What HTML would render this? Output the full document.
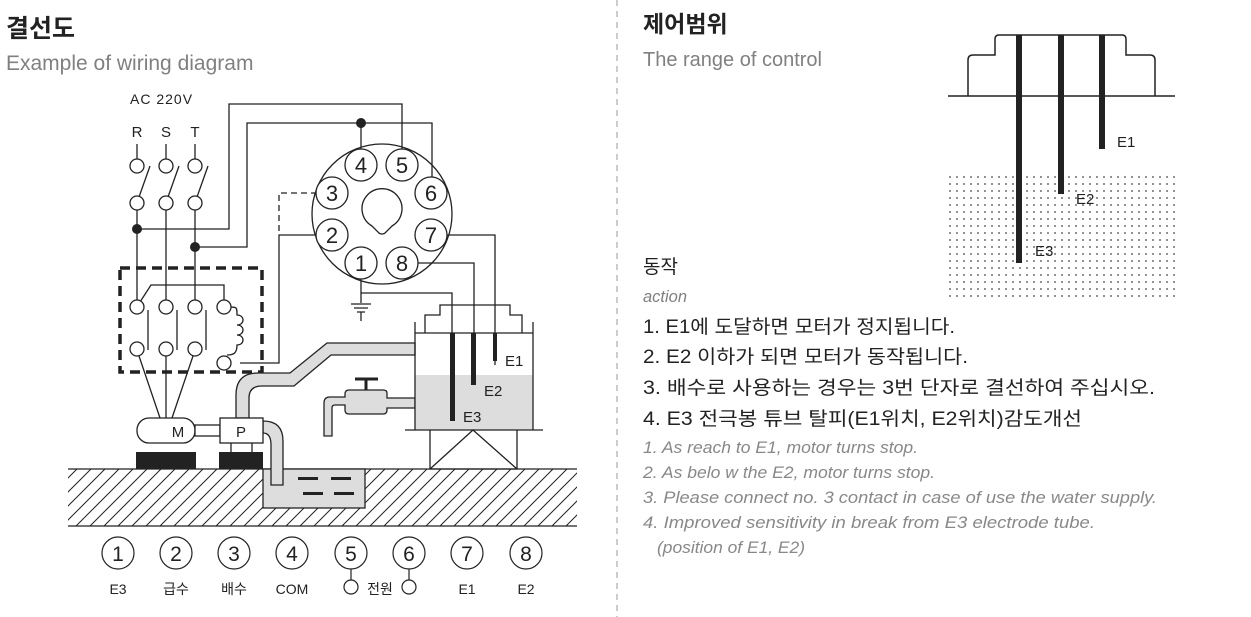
<!DOCTYPE html>
<html><head><meta charset="utf-8"><style>
html,body{margin:0;padding:0;background:#fff;}
svg{display:block;}
.k{font-family:"Liberation Sans","Noto Sans CJK KR",sans-serif;}
</style></head><body>
<svg width="1251" height="617" viewBox="0 0 1251 617" xmlns="http://www.w3.org/2000/svg" class="k">
<defs>
<pattern id="h" width="14" height="14" patternUnits="userSpaceOnUse"><path d="M-2,16 L16,-2 M-2,2 L2,-2 M12,16 L16,12" stroke="#222" stroke-width="1"/></pattern>
<pattern id="d" x="948" y="175" width="7" height="7" patternUnits="userSpaceOnUse"><circle cx="2" cy="2" r="0.9" fill="#444"/></pattern>
</defs>
<text x="6" y="37" font-size="25" font-weight="bold" fill="#222">결선도</text>
<text x="6" y="70" font-size="21" fill="#808080">Example of wiring diagram</text>
<line x1="617" y1="0" x2="617" y2="617" stroke="#999" stroke-dasharray="6,5"/>
<g fill="none" stroke="#222" stroke-width="1.3">
<rect x="68" y="469" width="509" height="57" fill="url(#h)" stroke="none"/>
<line x1="68" y1="469" x2="577" y2="469"/><line x1="68" y1="526" x2="577" y2="526"/>
<rect x="263" y="469" width="102" height="39" fill="#ddd"/>
<circle cx="382" cy="214" r="70" fill="#fff"/>
<path d="M372,226 A20,20 0 1 1 392,226 L386,232 A5,5 0 0 1 378,232 Z" />
<path d="M137,229 H229 V104 H402 V150"/>
<path d="M195,247 H247 V123 H432 V178"/>
<path d="M361,123 V150"/>
<path d="M317,193 H279 V232" stroke-dasharray="6,4"/>
<path d="M317,235 H279 V363 H240"/>
<path d="M447,235 H495 V365"/>
<path d="M418,263 H474 V388"/>
<path d="M361,279 V293 H452 V420"/>
<path d="M361,293 V303 M351,304 H371 M354,308 H368 M357,312 H365 M361,312 V321"/>
</g>
<g fill="#fff" stroke="#222" stroke-width="1.3">
<circle cx="361" cy="165" r="16"/><circle cx="402" cy="165" r="16"/>
<circle cx="332" cy="193" r="16"/><circle cx="431" cy="193" r="16"/>
<circle cx="332" cy="235" r="16"/><circle cx="431" cy="235" r="16"/>
<circle cx="361" cy="263" r="16"/><circle cx="402" cy="263" r="16"/>
</g>
<g font-size="22" fill="#222" text-anchor="middle">
<text x="361" y="173">4</text><text x="402" y="173">5</text><text x="332" y="201">3</text><text x="431" y="201">6</text>
<text x="332" y="243">2</text><text x="431" y="243">7</text><text x="361" y="271">1</text><text x="402" y="271">8</text>
</g>
<circle cx="361" cy="123" r="5" fill="#222"/><circle cx="137" cy="229" r="5" fill="#222"/><circle cx="195" cy="247" r="5" fill="#222"/>
<text x="130" y="104" font-size="14" fill="#222" letter-spacing="1">AC  220V</text>
<g font-size="15" fill="#222" text-anchor="middle"><text x="137" y="137">R</text><text x="166" y="137">S</text><text x="195" y="137">T</text></g>
<g fill="none" stroke="#222" stroke-width="1.3">
<path d="M137,144V159 M166,144V159 M195,144V159"/>
<path d="M150,166 L139,197 M179,166 L168,197 M208,166 L197,197"/>
<path d="M137,210V300 M166,210V300 M195,210V300"/>
<circle cx="137" cy="166" r="7" fill="#fff"/><circle cx="166" cy="166" r="7" fill="#fff"/><circle cx="195" cy="166" r="7" fill="#fff"/>
<circle cx="137" cy="203" r="7" fill="#fff"/><circle cx="166" cy="203" r="7" fill="#fff"/><circle cx="195" cy="203" r="7" fill="#fff"/>
<rect x="120" y="268" width="142" height="104" stroke-width="3.5" stroke-dasharray="10,6"/>
<path d="M140,302 L151,285 H224 V300"/>
<path d="M148,310V350 M177,310V350 M206,310V350"/>
<path d="M229,307 c8,0 8,0 8,8 c8,0 8,10 0,10 c8,0 8,10 0,10 c8,0 8,10 0,10 c0,8 -3,10 -10,10"/>
<circle cx="137" cy="307" r="7" fill="#fff"/><circle cx="166" cy="307" r="7" fill="#fff"/><circle cx="195" cy="307" r="7" fill="#fff"/><circle cx="224" cy="307" r="7" fill="#fff"/>
<circle cx="137" cy="349" r="7" fill="#fff"/><circle cx="166" cy="349" r="7" fill="#fff"/><circle cx="195" cy="349" r="7" fill="#fff"/><circle cx="224" cy="363" r="7" fill="#fff"/>
<path d="M139,356 L160,418 M166,356 V418 M193,356 L172,418"/>
<path d="M415,343 H327 L290,373 H258 Q236,373 236,395 V418 H249 V398 Q249,386 262,386 H294 L331,355 H415 Z" fill="#ddd"/>
<path d="M263,421 Q283,421 283,441 V485 H271 V445 Q271,433 263,433 Z" fill="#ddd"/>
<rect x="137" y="418" width="58" height="25" rx="12" fill="#fff"/>
<rect x="195" y="425" width="25" height="11" fill="#fff"/>
<rect x="220" y="418" width="43" height="25" fill="#fff"/>
<path d="M231,443V452 M252,443V452"/>
<path d="M415,398 H387 V393 Q387,390 383,390 H349 Q345,390 345,394 V397 H330 Q324,397 324,403 V436 H332 V408 Q332,405 335,405 H345 V410 Q345,414 349,414 H383 Q387,414 387,410 V408 H415 Z" fill="#ddd"/>
<path d="M366,390V380 M355,379H378" stroke-width="3"/>
<rect x="415" y="375" width="118" height="55" fill="#ddd" stroke="none"/>
<path d="M415,322 V430 H533 V322 M405,430 H543"/>
<path d="M425,333 V315 H440 V305 H510 V315 H522 V333 M415,333 H533"/>
<path d="M430,430 V469 H517 V430 M430,469 L473,430 L517,469"/>
</g>
<rect x="136" y="452" width="60" height="17" fill="#222"/><rect x="219" y="452" width="44" height="17" fill="#222"/>
<g fill="#222"><rect x="298" y="477" width="20" height="3"/><rect x="331" y="477" width="20" height="3"/><rect x="303" y="492" width="20" height="3"/><rect x="334" y="492" width="20" height="3"/></g>
<rect x="450" y="333" width="5" height="88" fill="#222"/><rect x="471" y="333" width="5" height="52" fill="#222"/><rect x="493" y="333" width="4" height="28" fill="#222"/>
<g font-size="15" fill="#222"><text x="505" y="366">E1</text><text x="484" y="396">E2</text><text x="463" y="422">E3</text>
<text x="178" y="437" text-anchor="middle">M</text><text x="241" y="437" text-anchor="middle">P</text></g>
<g fill="none" stroke="#222" stroke-width="1.2">
<circle cx="118" cy="553" r="16"/><circle cx="176" cy="553" r="16"/><circle cx="234" cy="553" r="16"/><circle cx="292" cy="553" r="16"/>
<circle cx="351" cy="553" r="16"/><circle cx="409" cy="553" r="16"/><circle cx="467" cy="553" r="16"/><circle cx="526" cy="553" r="16"/>
<path d="M351,569V580 M409,569V580"/><circle cx="351" cy="587" r="7"/><circle cx="409" cy="587" r="7"/>
</g>
<g font-size="21" fill="#222" text-anchor="middle">
<text x="118" y="561">1</text><text x="176" y="561">2</text><text x="234" y="561">3</text><text x="292" y="561">4</text>
<text x="351" y="561">5</text><text x="409" y="561">6</text><text x="467" y="561">7</text><text x="526" y="561">8</text>
</g>
<g font-size="14" fill="#222" text-anchor="middle">
<text x="118" y="594">E3</text><text x="176" y="594">급수</text><text x="234" y="594">배수</text><text x="292" y="594">COM</text>
<text x="380" y="594">전원</text><text x="467" y="594">E1</text><text x="526" y="594">E2</text>
</g>
<text x="643" y="32" font-size="23" font-weight="bold" fill="#222">제어범위</text>
<text x="643" y="66" font-size="20" fill="#808080">The range of control</text>
<rect x="948" y="175" width="227" height="125" fill="url(#d)"/>
<path d="M948,96 H1175 M968,96 V60 Q968,55 973,55 H995 V39 Q995,35 999,35 H1122 Q1126,35 1126,39 V55 H1150 Q1155,55 1155,60 V96" fill="none" stroke="#222" stroke-width="1.5"/>
<rect x="1016" y="35" width="6" height="228" fill="#222"/><rect x="1058" y="35" width="6" height="159" fill="#222"/><rect x="1099" y="35" width="6" height="114" fill="#222"/>
<g font-size="15" fill="#222"><text x="1117" y="147">E1</text><text x="1076" y="204">E2</text><text x="1035" y="256">E3</text></g>
<text x="643" y="273" font-size="19" fill="#222">동작</text>
<text x="643" y="302" font-size="17" font-style="italic" fill="#808080" textLength="44" lengthAdjust="spacingAndGlyphs">action</text>
<g font-size="19" fill="#222">
<text x="643" y="333" textLength="312" lengthAdjust="spacingAndGlyphs">1. E1에 도달하면 모터가 정지됩니다.</text>
<text x="643" y="363" textLength="325" lengthAdjust="spacingAndGlyphs">2. E2 이하가 되면 모터가 동작됩니다.</text>
<text x="643" y="394" textLength="512" lengthAdjust="spacingAndGlyphs">3. 배수로 사용하는 경우는 3번 단자로 결선하여 주십시오.</text>
<text x="643" y="425" textLength="439" lengthAdjust="spacingAndGlyphs">4. E3 전극봉 튜브 탈피(E1위치,  E2위치)감도개선</text>
</g>
<g font-size="17" font-style="italic" fill="#888">
<text x="643" y="453" textLength="275" lengthAdjust="spacingAndGlyphs">1. As reach to E1, motor turns stop.</text>
<text x="643" y="478" textLength="292" lengthAdjust="spacingAndGlyphs">2. As belo w the E2, motor turns stop.</text>
<text x="643" y="503" textLength="514" lengthAdjust="spacingAndGlyphs">3. Please connect no. 3 contact in case of use the water supply.</text>
<text x="643" y="528" textLength="452" lengthAdjust="spacingAndGlyphs">4. Improved sensitivity in break from E3 electrode tube.</text>
<text x="657" y="553" textLength="148" lengthAdjust="spacingAndGlyphs">(position of E1, E2)</text>
</g>
</svg>
</body></html>
